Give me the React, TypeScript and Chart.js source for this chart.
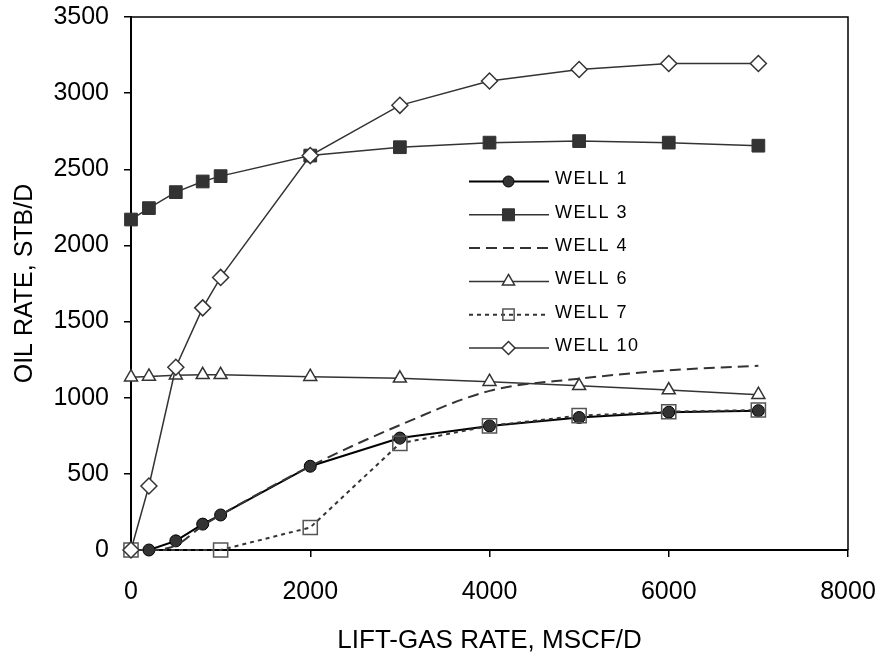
import React, { useEffect, useRef } from 'react';
import { Chart, registerables } from 'chart.js';

Chart.register(...registerables);

// ---- data ----
const GAS_RATES = [0, 200, 500, 800, 1000, 2000, 3000, 4000, 5000, 6000, 7000];
const WELL1_X = [200, 500, 800, 1000, 2000, 3000, 4000, 5000, 6000, 7000];
const WELL1_Y = [0, 60, 170, 230, 550, 735, 815, 870, 905, 915];
const WELL3_Y = [2170, 2245, 2350, 2420, 2455, 2590, 2645, 2675, 2685, 2675, 2655];
const WELL4_Y = [0, 0, 30, 160, 230, 550, 820, 1045, 1125, 1180, 1210];
const WELL6_Y = [1135, 1140, 1148, 1150, 1150, 1138, 1127, 1105, 1078, 1050, 1020];
const WELL7_X = [0, 1000, 2000, 3000, 4000, 5000, 6000, 7000];
const WELL7_Y = [0, 0, 148, 700, 815, 882, 908, 919];
const WELL10_Y = [0, 420, 1200, 1590, 1790, 2590, 2920, 3080, 3155, 3195, 3195];

const X_TICKS = [0, 2000, 4000, 6000, 8000];
const Y_TICKS = [0, 500, 1000, 1500, 2000, 2500, 3000, 3500];
const SERIES_LABELS = ['WELL 1', 'WELL 3', 'WELL 4', 'WELL 6', 'WELL 7', 'WELL 10'];
const X_TITLE = 'LIFT-GAS RATE, MSCF/D';
const Y_TITLE = 'OIL RATE, STB/D';

const FONT = "'Liberation Sans', Arial, Helvetica, sans-serif";

const pts = (xs: number[], ys: number[]) => xs.map((x, i) => ({ x, y: ys[i] }));

function drawMarker(
  ctx: CanvasRenderingContext2D,
  style: string,
  x: number,
  y: number,
  r: number,
  fill: string,
  stroke: string,
  lw: number
) {
  ctx.save();
  ctx.beginPath();
  if (style === 'circle') {
    ctx.arc(x, y, r, 0, Math.PI * 2);
  } else if (style === 'rect') {
    const s = r * Math.SQRT1_2;
    ctx.rect(x - s, y - s, 2 * s, 2 * s);
  } else if (style === 'triangle') {
    let a = 0;
    ctx.moveTo(x + Math.sin(a) * r, y - Math.cos(a) * r);
    a += (2 * Math.PI) / 3;
    ctx.lineTo(x + Math.sin(a) * r, y - Math.cos(a) * r);
    a += (2 * Math.PI) / 3;
    ctx.lineTo(x + Math.sin(a) * r, y - Math.cos(a) * r);
    ctx.closePath();
  } else if (style === 'rectRot') {
    ctx.moveTo(x - r, y);
    ctx.lineTo(x, y - r);
    ctx.lineTo(x + r, y);
    ctx.lineTo(x, y + r);
    ctx.closePath();
  }
  if (fill) {
    ctx.fillStyle = fill;
    ctx.fill();
  }
  ctx.lineWidth = lw;
  ctx.strokeStyle = stroke;
  ctx.setLineDash([]);
  ctx.stroke();
  ctx.restore();
}

const framePlugin = {
  id: 'frame',
  beforeDatasetsDraw(chart: any) {
    const { ctx, chartArea: ca } = chart;
    ctx.save();
    ctx.strokeStyle = '#000';
    ctx.lineWidth = 1.5;
    ctx.beginPath();
    ctx.moveTo(ca.left, ca.top);
    ctx.lineTo(ca.right, ca.top);
    ctx.lineTo(ca.right, ca.bottom);
    ctx.stroke();
    ctx.restore();
  },
};

const LEGEND_MARKER_R = [5.5, 8.5, 0, 7, 8, 6.5];

const legendPlugin = {
  id: 'wellLegend',
  afterDatasetsDraw(chart: any) {
    const { ctx } = chart;
    const lx0 = 469;
    const lx1 = 549;
    const mx = 508.5;
    const y0 = 181.5;
    const step = 33.3;
    chart.data.datasets.forEach((ds: any, i: number) => {
      const y = y0 + i * step;
      ctx.save();
      ctx.strokeStyle = ds.borderColor;
      ctx.lineWidth = ds.borderWidth;
      ctx.setLineDash(ds.borderDash || []);
      ctx.beginPath();
      ctx.moveTo(lx0, y);
      ctx.lineTo(lx1, y);
      ctx.stroke();
      ctx.restore();
      if (ds.pointRadius > 0) {
        drawMarker(
          ctx,
          ds.pointStyle,
          mx,
          y,
          LEGEND_MARKER_R[i],
          ds.pointBackgroundColor,
          ds.pointBorderColor,
          ds.pointBorderWidth
        );
      }
      ctx.save();
      ctx.font = `18px ${FONT}`;
      (ctx as any).letterSpacing = '1.5px';
      ctx.fillStyle = '#000';
      ctx.textAlign = 'left';
      ctx.textBaseline = 'middle';
      ctx.fillText(ds.label, 555, y - 2);
      ctx.restore();
    });
  },
};

export default function App() {
  const ref = useRef<HTMLCanvasElement | null>(null);

  useEffect(() => {
    document.body.style.margin = '0';
    const canvas = ref.current;
    if (!canvas) return;

    const datasets: any[] = [
      {
        label: SERIES_LABELS[0],
        data: pts(WELL1_X, WELL1_Y),
        borderColor: '#000',
        borderWidth: 2,
        pointStyle: 'circle',
        pointRadius: 6,
        pointBackgroundColor: '#333',
        pointBorderColor: '#000',
        pointBorderWidth: 1,
        order: 5,
      },
      {
        label: SERIES_LABELS[1],
        data: pts(GAS_RATES, WELL3_Y),
        borderColor: '#333',
        borderWidth: 1.5,
        pointStyle: 'rect',
        pointRadius: 9,
        pointBackgroundColor: '#333',
        pointBorderColor: '#333',
        pointBorderWidth: 1,
        order: 4,
      },
      {
        label: SERIES_LABELS[2],
        data: pts(GAS_RATES, WELL4_Y),
        borderColor: '#333',
        borderWidth: 2,
        borderDash: [11, 6],
        pointRadius: 0,
        pointStyle: 'circle',
        pointBackgroundColor: '#333',
        pointBorderColor: '#333',
        pointBorderWidth: 0,
        cubicInterpolationMode: 'monotone',
        order: 3,
      },
      {
        label: SERIES_LABELS[3],
        data: pts(GAS_RATES, WELL6_Y),
        borderColor: '#333',
        borderWidth: 1.5,
        pointStyle: 'triangle',
        pointRadius: 7.5,
        pointBackgroundColor: '#fff',
        pointBorderColor: '#333',
        pointBorderWidth: 1.5,
        order: 2,
      },
      {
        label: SERIES_LABELS[4],
        data: pts(WELL7_X, WELL7_Y),
        borderColor: '#333',
        borderWidth: 2,
        borderDash: [4, 4],
        pointStyle: 'rect',
        pointRadius: 10,
        pointBackgroundColor: 'rgba(255,255,255,0)',
        pointBorderColor: '#555',
        pointBorderWidth: 1.5,
        order: 1,
      },
      {
        label: SERIES_LABELS[5],
        data: pts(GAS_RATES, WELL10_Y),
        borderColor: '#333',
        borderWidth: 1.5,
        pointStyle: 'rectRot',
        pointRadius: 8,
        pointBackgroundColor: '#fff',
        pointBorderColor: '#333',
        pointBorderWidth: 1.5,
        order: 0,
      },
    ];
    datasets.forEach((d) => {
      d.showLine = true;
      d.clip = false;
      d.fill = false;
      d.pointHoverRadius = d.pointRadius;
    });

    const tickFont = { family: FONT, size: 25 };
    const chart = new Chart(canvas, {
      type: 'scatter',
      data: { datasets },
      options: {
        animation: false,
        responsive: false,
        devicePixelRatio: 1,
        layout: { padding: { left: 0, top: 17, right: 32, bottom: 0 } },
        plugins: {
          legend: { display: false },
          tooltip: { enabled: false },
        },
        scales: {
          x: {
            type: 'linear',
            min: 0,
            max: 8000,
            afterBuildTicks: (s: any) => {
              s.ticks = X_TICKS.map((v) => ({ value: v }));
            },
            afterFit: (s: any) => {
              s.height = 106;
              s.paddingLeft = 0;
              s.paddingRight = 0;
            },
            ticks: {
              font: tickFont,
              color: '#000',
              padding: 20,
              maxRotation: 0,
              callback: (v: any) => String(v),
            },
            grid: {
              drawOnChartArea: false,
              drawTicks: true,
              tickLength: 7,
              color: '#000',
              lineWidth: 1.5,
            },
            border: { display: true, color: '#000', width: 2 },
            title: {
              display: true,
              text: X_TITLE,
              color: '#000',
              font: { family: FONT, size: 26 },
              padding: { top: 0, bottom: 0 },
            },
          },
          y: {
            type: 'linear',
            min: 0,
            max: 3500,
            afterBuildTicks: (s: any) => {
              s.ticks = Y_TICKS.map((v) => ({ value: v }));
            },
            afterFit: (s: any) => {
              s.width = 131;
              s.paddingTop = 0;
              s.paddingBottom = 0;
            },
            ticks: {
              font: tickFont,
              color: '#000',
              padding: 15,
              callback: (v: any) => String(v),
            },
            grid: {
              drawOnChartArea: false,
              drawTicks: true,
              tickLength: 7,
              color: '#000',
              lineWidth: 1.5,
            },
            border: { display: true, color: '#000', width: 2 },
            title: {
              display: true,
              text: Y_TITLE,
              color: '#000',
              font: { family: FONT, size: 25 },
              padding: { top: 10, bottom: 0 },
            },
          },
        },
      } as any,
      plugins: [framePlugin, legendPlugin],
    });

    return () => {
      chart.destroy();
    };
  }, []);

  return (
    <div style={{ position: 'absolute', left: 0, top: 0, width: 880, height: 656, background: '#fff' }}>
      <canvas ref={ref} width={880} height={656} style={{ display: 'block' }} />
    </div>
  );
}
